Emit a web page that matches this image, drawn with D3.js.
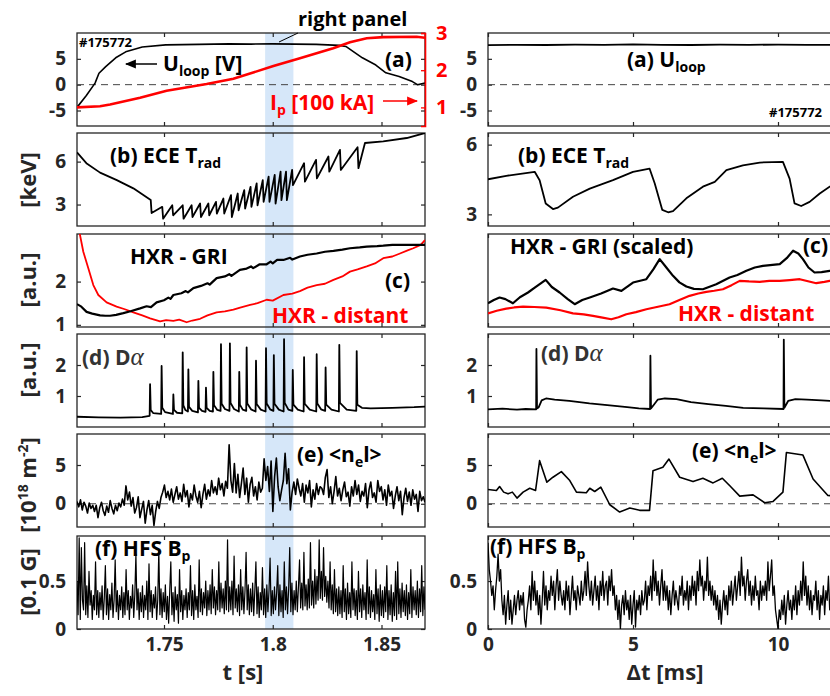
<!DOCTYPE html>
<html><head><meta charset="utf-8">
<script src="https://cdn.jsdelivr.net/npm/d3@7"></script>
<style>
body{margin:0;background:#fff;}
svg text{font-family:"Open Sans",Lato,sans-serif;font-weight:700;}
</style></head><body>
<svg id="chart" width="830" height="696"></svg>
<script>
// ---------------- DATA ----------------
const tLim = [1.71, 1.87];          // left time axis [s]
const dtLim = [0, 13];              // right time axis [ms]
const bandT = [1.7965, 1.8095];     // shaded "right panel" window
const tTicks = [1.75, 1.8, 1.85];
const dtTicks = [0, 5, 10];

// (a) loop voltage and plasma current, left
const uLoopT = [1.7100,1.7143,1.7183,1.7201,1.7232,1.7278,1.7324,1.7400,1.7508,1.7661,1.7800,1.7900,1.8000,1.8100,1.8200,1.8305,1.8336,1.8412,1.8474,1.8520,1.8581,1.8642,1.8665,1.8700];
const uLoopV = [-4.4,-2.1,0.3,2.2,3.5,5.2,6.35,7.3,7.7,7.8,7.9,7.85,7.9,7.85,7.8,7.6,7.4,5.2,3.8,2.3,1.6,0.6,0.0,0.3];
const ipT = [1.7100,1.7206,1.7252,1.7390,1.7512,1.7635,1.7696,1.7819,1.8003,1.8125,1.8278,1.8355,1.8432,1.8508,1.8662,1.8700];
const ipV = [1.00,1.03,1.08,1.26,1.45,1.57,1.63,1.77,2.11,2.32,2.59,2.75,2.86,2.89,2.90,2.87];
// (a) right
const uLoopRT = [0,1,2,3,4,5,6,7,8,9,10,11,12,13];
const uLoopRV = [7.65,7.72,7.68,7.75,7.7,7.78,7.72,7.68,7.75,7.7,7.76,7.7,7.72,7.7];

// (b) ECE Trad [keV]
const eceT = [1.7100,1.7143,1.7206,1.7283,1.7359,1.7439,1.7443,1.7492,1.7496,1.7538,1.7542,1.7586,1.7590,1.7627,1.7631,1.7666,1.7670,1.7704,1.7708,1.7739,1.7743,1.7773,1.7777,1.7808,1.7812,1.7839,1.7843,1.7869,1.7873,1.7898,1.7902,1.7926,1.7930,1.7954,1.7958,1.7981,1.7985,1.8009,1.8013,1.8036,1.8040,1.8061,1.8065,1.8089,1.8093,1.8144,1.8148,1.8199,1.8203,1.8256,1.8260,1.8309,1.8313,1.8390,1.8394,1.8424,1.8508,1.8616,1.8700];
const eceV = [6.64,5.89,5.23,4.71,4.13,3.31,2.41,2.84,2.01,2.95,2.25,2.95,2.01,2.95,2.13,3.07,2.13,3.07,2.25,3.19,2.37,3.42,2.37,3.66,2.13,3.77,2.60,4.01,2.72,4.24,2.84,4.48,2.95,4.71,3.19,4.95,3.19,5.07,3.07,5.30,3.31,5.30,3.31,5.42,4.36,5.89,4.60,6.12,4.83,6.36,5.30,6.82,5.42,7.00,5.54,7.30,7.41,7.65,8.00];
const eceRT = [0,0.63,1.61,1.78,1.99,2.24,2.41,2.93,3.51,4.31,5.0,5.57,5.75,6.01,6.21,6.38,6.84,7.41,7.82,8.22,8.79,9.37,10.17,10.40,10.57,10.80,11.09,11.44,11.78,12.3,13];
const eceRV = [4.51,4.66,4.83,4.47,3.47,3.23,3.29,3.76,4.11,4.47,4.83,4.97,4.33,3.19,3.09,3.14,3.69,4.19,4.4,4.9,5.11,5.23,5.26,4.54,3.47,3.36,3.54,3.9,4.19,4.45,4.75];

// (c) HXR [a.u.]
const griT = [1.7100,1.7120,1.7144,1.7170,1.7206,1.7230,1.7252,1.7280,1.7313,1.7350,1.7390,1.7420,1.7440,1.7466,1.7500,1.7520,1.7530,1.7543,1.7580,1.7600,1.7610,1.7635,1.7670,1.7700,1.7710,1.7742,1.7780,1.7800,1.7810,1.7849,1.7880,1.7900,1.7910,1.7940,1.7972,1.7990,1.8000,1.8020,1.8049,1.8080,1.8090,1.8125,1.8160,1.8202,1.8240,1.8279,1.8320,1.8355,1.8400,1.8432,1.8480,1.8508,1.8550,1.8585,1.8640,1.8700];
const griV = [1.48,1.42,1.30,1.26,1.22,1.21,1.21,1.23,1.27,1.32,1.38,1.43,1.41,1.52,1.57,1.63,1.60,1.69,1.73,1.78,1.75,1.85,1.90,1.96,1.93,2.08,2.12,2.17,2.13,2.27,2.30,2.35,2.31,2.40,2.40,2.46,2.42,2.50,2.50,2.55,2.51,2.58,2.62,2.65,2.69,2.71,2.74,2.77,2.79,2.81,2.82,2.83,2.85,2.85,2.85,2.85];
const distT = [1.7105,1.7129,1.7152,1.7175,1.7198,1.7236,1.7282,1.7320,1.7359,1.7400,1.7436,1.7482,1.7510,1.7543,1.7570,1.7604,1.7630,1.7666,1.7700,1.7742,1.7780,1.7819,1.7850,1.7896,1.7930,1.7972,1.8000,1.8049,1.8090,1.8125,1.8160,1.8202,1.8240,1.8279,1.8320,1.8355,1.8390,1.8432,1.8470,1.8508,1.8550,1.8585,1.8620,1.8646,1.8680,1.8700];
const distV = [3.30,2.69,2.31,1.92,1.69,1.52,1.42,1.36,1.29,1.22,1.15,1.08,1.11,1.09,1.12,1.06,1.10,1.14,1.22,1.29,1.31,1.35,1.40,1.46,1.50,1.58,1.56,1.69,1.72,1.78,1.86,1.92,1.95,2.04,2.12,2.23,2.28,2.35,2.42,2.54,2.58,2.65,2.72,2.77,2.85,2.96];
const griRT = [0,0.2,0.40,0.6,0.86,1.1,1.38,1.6,1.99,2.2,2.47,2.75,2.99,3.25,3.51,3.9,4.31,4.6,5.0,5.46,5.7,5.92,6.15,6.38,6.6,6.84,7.1,7.41,7.87,8.33,8.6,8.91,9.2,9.48,10.06,10.3,10.52,10.7,10.86,11.05,11.26,11.5,11.78,12.3,13];
const griRV = [2.55,2.9,3.17,3.0,2.55,3.2,3.71,4.2,5.07,4.3,3.71,3.0,2.45,2.9,3.17,3.6,4.14,3.88,4.78,5.14,6.2,7.3,6.4,5.5,4.8,4.35,4.1,4.06,4.6,5.32,5.6,6.04,6.4,6.58,6.76,7.4,8.2,7.9,7.3,6.4,5.86,5.9,6.04,5.6,6.0];
const distRT = [0,0.3,0.63,0.9,1.21,1.6,2.01,2.5,2.93,3.3,3.62,3.95,4.25,4.5,4.77,5.1,5.46,5.9,6.26,6.6,6.95,7.25,7.53,7.8,8.10,8.4,8.68,9.0,9.37,9.7,10.06,10.4,10.75,11.0,11.32,11.6,11.78,12.4,13];
const distRV = [1.47,1.75,1.98,2.1,2.19,2.15,2.09,1.8,1.47,1.35,1.19,1.0,0.83,1.05,1.37,1.6,1.91,2.2,2.45,2.9,3.35,3.6,3.78,3.9,4.06,4.5,4.96,4.9,4.86,4.95,4.96,5.05,5.14,4.95,4.71,4.85,4.96,5.0,5.0];

// (d) D-alpha [a.u.]
const daT = [1.7100,1.7200,1.7300,1.7400,1.7434,1.7436,1.7439,1.7450,1.7487,1.7489,1.7492,1.7505,1.7541,1.7543,1.7546,1.7560,1.7584,1.7586,1.7589,1.7598,1.7610,1.7612,1.7615,1.7630,1.7656,1.7658,1.7661,1.7675,1.7691,1.7693,1.7696,1.7710,1.7725,1.7727,1.7730,1.7745,1.7760,1.7762,1.7765,1.7780,1.7801,1.7803,1.7806,1.7822,1.7844,1.7846,1.7849,1.7862,1.7878,1.7880,1.7883,1.7900,1.7921,1.7923,1.7926,1.7945,1.7967,1.7969,1.7972,1.7988,1.8003,1.8005,1.8008,1.8028,1.8050,1.8052,1.8055,1.8072,1.8090,1.8092,1.8095,1.8115,1.8142,1.8144,1.8147,1.8170,1.8200,1.8202,1.8205,1.8222,1.8241,1.8243,1.8246,1.8270,1.8304,1.8306,1.8309,1.8340,1.8384,1.8386,1.8389,1.8410,1.8450,1.8550,1.8650,1.8700];
const daV = [0.33,0.31,0.30,0.32,0.36,1.38,0.55,0.45,0.42,1.97,0.62,0.48,0.42,1.05,0.55,0.46,0.44,2.41,0.70,0.55,0.50,1.86,0.65,0.52,0.47,1.49,0.62,0.52,0.49,1.27,0.62,0.52,0.50,1.78,0.70,0.55,0.52,2.67,0.75,0.58,0.52,2.70,0.78,0.58,0.50,1.78,0.72,0.56,0.52,2.57,0.76,0.57,0.50,2.14,0.74,0.56,0.50,2.54,0.76,0.57,0.52,2.32,0.75,0.56,0.50,2.83,0.78,0.56,0.52,1.84,0.72,0.56,0.50,2.25,0.75,0.56,0.50,2.35,0.76,0.57,0.52,1.92,0.72,0.56,0.50,2.65,0.78,0.56,0.52,2.45,0.72,0.62,0.60,0.62,0.64,0.66];
const daRT = [0,0.5,1.0,1.3,1.66,1.67,1.69,1.75,1.85,2.0,2.3,2.8,3.5,4.2,4.8,5.2,5.59,5.60,5.62,5.72,5.85,6.1,6.5,7.0,7.6,8.2,8.8,9.5,10.19,10.20,10.22,10.35,10.6,11.0,11.5,11.8,12.4,13];
const daRV = [0.57,0.59,0.56,0.58,0.57,2.52,0.60,0.64,0.86,0.92,0.88,0.84,0.76,0.70,0.64,0.60,0.58,2.30,0.60,0.72,0.88,0.92,0.90,0.80,0.74,0.68,0.62,0.60,0.58,2.82,0.62,0.84,0.90,0.88,0.86,0.84,0.80,0.76];

// (e) line-integrated density [1e18 m^-2], left: evenly sampled over tLim
const neL = [
0.3,-0.4,0.5,-0.8,0.2,-0.3,-1.2,0.1,-0.6,-0.2,
-1.0,-0.2,-1.8,-0.5,0.2,-0.9,-1.5,-0.3,-1.1,0.4,
-0.6,-1.3,-0.2,-0.9,0.1,-0.4,0.6,-0.2,2.3,0.5,
1.5,-0.3,0.8,-1.2,-0.5,0.9,-1.8,-0.7,0.3,-2.5,
-0.8,0.4,-1.4,-0.2,-2.8,-1.0,0.3,-0.6,0.8,1.5,
2.4,0.8,1.6,0.5,1.9,0.2,1.2,2.2,0.6,1.4,
0.3,2.5,0.9,1.7,-0.4,1.3,0.5,2.4,1.0,0.2,
1.6,-0.5,1.2,2.5,0.6,1.8,1.0,3.0,1.4,2.2,
1.2,3.3,1.8,2.6,1.0,2.9,2.0,7.6,3.0,1.5,
5.2,1.4,3.8,0.8,2.6,4.6,1.2,3.3,0.2,2.5,
3.4,1.0,2.2,0.5,2.8,1.5,2.0,5.8,3.0,4.8,
1.6,5.5,-1.0,3.5,5.9,2.2,0.4,1.8,3.0,6.5,
2.6,4.5,-0.8,1.5,2.8,1.2,3.2,2.0,1.0,2.6,
0.2,2.4,1.4,3.0,-0.4,1.8,0.6,2.6,1.2,2.2,
2.0,1.2,3.4,4.4,0.8,2.2,0.0,1.6,3.5,1.0,
2.0,0.4,1.8,2.8,0.9,1.5,-0.3,2.2,1.0,3.0,
1.2,2.4,0.3,1.6,1.0,2.6,-0.5,1.8,2.8,0.8,
1.4,0.2,3.0,1.6,2.2,0.5,1.8,-0.2,2.4,1.0,
1.6,-0.6,1.0,2.2,0.4,1.6,-1.4,0.8,2.0,0.3,
1.5,-0.2,1.8,0.6,1.2,-1.0,1.6,0.4,0.9,0.2];
const neRT = [0,0.29,0.40,0.54,0.69,0.84,1.0,1.21,1.44,1.64,1.78,2.03,2.24,2.53,2.82,3.05,3.39,3.51,3.68,3.89,4.20,4.54,4.89,5.23,5.57,5.69,6.03,6.24,6.61,7.07,7.41,7.76,8.08,8.33,8.68,9.14,9.54,9.83,10.17,10.29,10.86,11.21,11.72,12.3,13];
const neRV = [1.84,1.71,2.22,1.5,1.28,1.5,0.73,1.5,2.0,1.71,5.56,2.78,3.42,4.15,2.99,1.5,1.41,2.0,1.58,2.14,-0.13,-1.07,-0.56,-0.85,-0.85,4.27,4.7,5.77,3.42,2.86,3.29,2.69,3.29,2.35,0.98,1.15,0.13,0.3,1.5,6.62,6.28,3.2,1.07,0.9,1.0];

// (f) HFS Bp [0.1 G], evenly sampled
const bpL = [
0.5,0.15,0.95,0.1,0.85,0.3,0.2,0.9,0.15,0.45,0.12,0.6,0.25,0.4,0.1,0.35,0.2,0.7,0.15,0.4,
0.12,0.38,0.2,0.45,0.1,0.32,0.66,0.15,0.42,0.1,0.36,0.2,0.48,0.12,0.3,0.72,0.18,0.4,0.1,0.35,
0.2,0.44,0.12,0.38,0.15,0.62,0.2,0.4,0.1,0.34,0.22,0.46,0.12,0.36,0.78,0.2,0.42,0.1,0.38,0.18,
0.45,0.12,0.35,0.2,0.5,0.1,0.68,0.18,0.4,0.12,0.36,0.22,0.44,0.1,0.3,0.82,0.15,0.42,0.12,0.38,
0.18,0.46,0.1,0.34,0.06,0.4,0.7,0.15,0.38,0.08,0.44,0.2,0.36,0.06,0.62,0.18,0.4,0.1,0.35,0.2,
0.42,0.12,0.38,0.2,0.66,0.14,0.4,0.1,0.46,0.2,0.34,0.12,0.72,0.18,0.42,0.15,0.38,0.22,0.5,0.14,
0.4,0.2,0.46,0.16,0.62,0.22,0.44,0.15,0.4,0.2,0.7,0.18,0.48,0.22,0.42,0.16,0.5,0.2,0.93,0.18,
0.44,0.2,0.5,0.15,0.76,0.22,0.42,0.18,0.46,0.14,0.62,0.2,0.44,0.16,0.4,0.8,0.2,0.46,0.15,0.42,
0.18,0.48,0.14,0.4,0.7,0.16,0.44,0.12,0.38,0.2,0.64,0.15,0.42,0.12,0.46,0.18,0.4,0.74,0.14,0.4,
0.16,0.44,0.2,0.38,0.66,0.14,0.46,0.18,0.4,0.12,0.7,0.2,0.44,0.16,0.42,0.85,0.18,0.48,0.15,0.4,
0.2,0.5,0.18,0.44,0.72,0.22,0.48,0.2,0.8,0.24,0.46,0.2,0.52,0.22,0.9,0.25,0.5,0.22,0.62,0.26,
0.55,0.3,0.93,0.32,0.6,0.3,0.85,0.34,0.55,0.28,0.5,0.22,0.7,0.2,0.46,0.16,0.62,0.18,0.42,0.14,
0.44,0.16,0.4,0.12,0.66,0.18,0.42,0.1,0.48,0.16,0.38,0.12,0.7,0.2,0.42,0.14,0.4,0.1,0.6,0.18,
0.42,0.12,0.46,0.2,0.38,0.1,0.72,0.16,0.44,0.12,0.4,0.18,0.36,0.1,0.62,0.16,0.42,0.08,0.46,0.14,
0.4,0.12,0.44,0.18,0.66,0.1,0.4,0.15,0.46,0.08,0.38,0.14,0.6,0.1,0.7,0.16,0.42,0.12,0.48,0.18,
0.4,0.14,0.46,0.1,0.38,0.16,0.62,0.12,0.44,0.2,0.4,0.15,0.5,0.12,0.42,0.18,0.66,0.14,0.44,0.2];
const bpR = [
0.9,0.62,0.5,0.35,0.45,0.2,0.4,0.55,0.78,0.5,0.62,0.3,0.15,0.35,0.05,0.25,0.4,0.1,0.3,0.05,
0.2,0.35,0.15,0.3,0.4,0.2,0.35,0.25,0.38,0.1,0.02,0.2,0.3,0.45,0.2,0.6,0.3,0.5,0.25,0.4,
0.15,0.35,0.05,0.3,0.6,0.25,0.45,0.2,0.4,0.3,0.55,0.35,0.5,0.2,0.45,0.62,0.3,0.5,0.35,0.25,
0.4,0.2,0.5,0.3,0.45,0.15,0.35,0.55,0.3,0.4,0.2,0.45,0.35,0.25,0.5,0.3,0.4,0.6,0.35,0.7,
0.45,0.3,0.5,0.25,0.4,0.55,0.3,0.45,0.2,0.5,0.35,0.6,0.3,0.45,0.5,0.25,0.55,0.4,0.62,0.35,
0.45,0.2,0.35,0.1,0.3,0.0,0.25,0.35,0.15,0.4,0.2,0.3,0.1,0.35,0.05,0.25,0.4,0.02,0.3,0.2,
0.35,0.15,0.4,0.25,0.3,0.5,0.2,0.45,0.35,0.55,0.3,0.72,0.4,0.6,0.35,0.5,0.25,0.45,0.62,0.3,
0.5,0.3,0.45,0.2,0.4,0.15,0.35,0.5,0.25,0.4,0.3,0.2,0.45,0.35,0.55,0.25,0.4,0.3,0.5,0.2,
0.45,0.3,0.55,0.35,0.5,0.25,0.6,0.4,0.72,0.45,0.55,0.3,0.5,0.4,0.75,0.35,0.5,0.3,0.45,0.25,
0.4,0.2,0.35,0.1,0.3,0.05,0.25,0.4,0.2,0.35,0.15,0.45,0.3,0.5,0.25,0.4,0.55,0.3,0.45,0.6,
0.35,0.75,0.45,0.55,0.3,0.5,0.62,0.35,0.5,0.25,0.45,0.3,0.55,0.35,0.4,0.2,0.5,0.3,0.45,0.35,
0.5,0.3,0.7,0.4,0.55,0.72,0.35,0.45,0.2,0.1,0.0,0.2,0.1,0.3,0.15,0.35,0.05,0.25,0.4,0.2,
0.3,0.1,0.35,0.2,0.45,0.15,0.4,0.25,0.5,0.3,0.7,0.35,0.55,0.25,0.45,0.2,0.4,0.15,0.35,0.3,
0.5,0.2,0.4,0.1,0.35,0.25,0.45,0.15,0.4,0.3,0.55,0.2,0.35,0.45,0.25,0.4,0.2,0.5,0.3,0.4,
0.25,0.45,0.3,0.5,0.2,0.4,0.35,0.55,0.25,0.4,0.3,0.45,0.2,0.35,0.4,0.3,0.5,0.25,0.4,0.3];

// ---------------- LAYOUT ----------------
const svg = d3.select("#chart");
const LX = [77, 425], RX = [488, 865];
const tops = [33, 133, 234, 334, 434, 536], PH = 93;
const TL = 4;
const AX = "#262626", RED = "#ff0000";
const xL = d3.scaleLinear().domain(tLim).range(LX);
const xR = d3.scaleLinear().domain(dtLim).range(RX);
const zip = (a, b) => a.map((v, i) => [v, b[i]]);
const even = (vals, lim) => { const s = d3.scaleLinear().domain([0, vals.length - 1]).range(lim); return vals.map((v, i) => [s(i), v]); };

const defs = svg.append("defs");
function marker(id, col) {
  defs.append("marker").attr("id", id).attr("viewBox", "0 0 10 10").attr("refX", 9).attr("refY", 5)
    .attr("markerWidth", 11).attr("markerHeight", 11).attr("markerUnits", "userSpaceOnUse").attr("orient", "auto")
    .append("path").attr("d", "M0,1L10,5L0,9Z").attr("fill", col);
}
marker("arrK", "#000"); marker("arrR", RED);

// shaded band
svg.append("rect").attr("x", xL(bandT[0])).attr("width", xL(bandT[1]) - xL(bandT[0]))
  .attr("y", tops[0]).attr("height", tops[5] + PH - tops[0]).attr("fill", "#d6e7f9");

function rich(x, y, parts, o = {}) {
  const t = svg.append("text").attr("x", x).attr("y", y).attr("fill", o.fill || "#000")
    .style("font-size", (o.size || 21) + "px");
  if (o.anchor) t.attr("text-anchor", o.anchor);
  if (o.rotate) t.attr("transform", `rotate(-90,${x},${y})`);
  let shift = 0;
  parts.forEach(p => {
    const [s, k] = typeof p === "string" ? [p, "n"] : p;
    const target = k === "sub" ? 5 : k === "sup" ? -8 : 0;
    const ts = t.append("tspan").text(s).attr("dy", target - shift);
    shift = target;
    if (k === "sub" || k === "sup") ts.style("font-size", (o.small || 14) + "px");
    if (k === "greek") ts.style("font-family", "'Liberation Serif',serif").style("font-style", "italic")
      .style("font-weight", "normal").style("font-size", ((o.size || 21) * 1.2) + "px");
  });
  return t;
}

function panel(i, side, yDom, yTicks) {
  const x = side === "L" ? xL : xR;
  const top = tops[i], bot = top + PH;
  const y = d3.scaleLinear().domain(yDom).range([bot, top]);
  const g = svg.append("g");
  const xt = side === "L" ? tTicks : dtTicks;
  const fmt = d => String(d);
  const styleAx = sel => { sel.select(".domain").remove(); sel.selectAll("line").attr("stroke", AX).attr("stroke-width", 1.2);
    sel.selectAll("text").attr("fill", AX).style("font-size", "19px").style("font-family", "'Open Sans',sans-serif").style("font-weight", 700); };
  g.append("g").attr("transform", `translate(0,${bot})`)
    .call(d3.axisBottom(x).tickValues(xt).tickSize(-TL).tickPadding(9).tickFormat(i === 5 ? fmt : () => "")).call(styleAx);
  g.append("g").attr("transform", `translate(0,${top})`)
    .call(d3.axisTop(x).tickValues(xt).tickSize(-TL).tickFormat(() => "")).call(styleAx);
  if (yTicks) {
    g.append("g").attr("transform", `translate(${x.range()[0]},0)`)
      .call(d3.axisLeft(y).tickValues(yTicks).tickSize(-TL).tickPadding(11).tickFormat(fmt)).call(styleAx);
    g.append("g").attr("transform", `translate(${x.range()[1]},0)`)
      .call(d3.axisRight(y).tickValues(yTicks).tickSize(-TL).tickFormat(() => "")).call(styleAx);
  }
  g.append("rect").attr("x", x.range()[0]).attr("y", top).attr("width", x.range()[1] - x.range()[0]).attr("height", PH)
    .attr("fill", "none").attr("stroke", AX).attr("stroke-width", 1.3);
  const cid = "clip" + side + i;
  defs.append("clipPath").attr("id", cid).append("rect").attr("x", x.range()[0]).attr("y", top)
    .attr("width", x.range()[1] - x.range()[0]).attr("height", PH);
  const plot = svg.append("g").attr("clip-path", `url(#${cid})`);
  const line = (data, col, w) => plot.append("path").datum(data).attr("fill", "none").attr("stroke", col)
    .attr("stroke-width", w).attr("stroke-linejoin", "round")
    .attr("d", d3.line().x(d => x(d[0])).y(d => y(d[1])));
  const zero = () => plot.append("line").attr("x1", x.range()[0]).attr("x2", x.range()[1])
    .attr("y1", y(0)).attr("y2", y(0)).attr("stroke", "#444").attr("stroke-width", 1).attr("stroke-dasharray", "7,5");
  return { x, y, g, plot, line, zero, top, bot };
}

// (a) left
{
  const p = panel(0, "L", [-8, 10], [-5, 0, 5]);
  p.zero();
  const yI = d3.scaleLinear().domain([0.5, 3]).range([p.bot, p.top]);
  p.line(zip(uLoopT, uLoopV), "#000", 1.6);
  p.plot.append("path").datum(zip(ipT, ipV)).attr("fill", "none").attr("stroke", RED).attr("stroke-width", 2.6)
    .attr("d", d3.line().x(d => xL(d[0])).y(d => yI(d[1])));
  svg.append("g").attr("transform", `translate(${LX[1]},0)`)
    .call(d3.axisRight(yI).tickValues([1, 2, 3]).tickSize(-TL).tickPadding(11).tickFormat(d => String(d)))
    .call(s => { s.select(".domain").attr("stroke", RED).attr("stroke-width", 1.6); s.selectAll("line").attr("stroke", RED).attr("stroke-width", 1.3);
      s.selectAll("text").attr("fill", RED).style("font-size", "20px").style("font-weight", 700).style("font-family", "'Open Sans',sans-serif"); });
}
// (a) right
{ const p = panel(0, "R", [-8, 10], [-5, 0, 5]); p.zero(); p.line(zip(uLoopRT, uLoopRV), "#000", 1.8); }
// (b)
{ const p = panel(1, "L", [1.5, 8], [3, 6]); p.line(zip(eceT, eceV), "#000", 1.8); }
{ const p = panel(1, "R", [2.5, 6.5], [3, 6]); p.line(zip(eceRT, eceRV), "#000", 1.8); }
// (c)
{ const p = panel(2, "L", [0.95, 3.1], [1, 2]); p.line(zip(distT, distV), RED, 1.8); p.line(zip(griT, griV), "#000", 2.2); }
{ const p = panel(2, "R", [0, 10], null); p.line(zip(distRT, distRV), RED, 2.2); p.line(zip(griRT, griRV), "#000", 2.2); }
// (d)
{ const p = panel(3, "L", [0, 3], [1, 2]); p.line(zip(daT, daV), "#000", 1.8); }
{ const p = panel(3, "R", [0, 3], [1, 2]); p.line(zip(daRT, daRV), "#000", 1.8); }
// (e)
{ const p = panel(4, "L", [-3, 9], [0, 5]); p.zero(); p.line(even(neL, tLim), "#000", 1.6); }
{ const p = panel(4, "R", [-3, 9], [0, 5]); p.zero(); p.line(zip(neRT, neRV), "#000", 1.6); }
// (f)
{ const p = panel(5, "L", [0, 0.97], [0, 0.5]); p.line(even(bpL, tLim), "#000", 1.2); }
{ const p = panel(5, "R", [0, 0.97], [0, 0.5]); p.line(even(bpR, dtLim), "#000", 1.3); }

// ---------------- TEXT ----------------
rich(298, 26, ["right panel"], { size: 20 });
svg.append("line").attr("x1", 279).attr("y1", 42).attr("x2", 298).attr("y2", 33).attr("stroke", "#000").attr("stroke-width", 1);
rich(79, 47, ["#175772"], { size: 13 });
rich(385, 67, ["(a)"], { size: 21 });
svg.append("line").attr("x1", 157).attr("y1", 64).attr("x2", 126).attr("y2", 64).attr("stroke", "#000").attr("stroke-width", 1.5).attr("marker-end", "url(#arrK)");
rich(163, 71, ["U", ["loop", "sub"], " [V]"], { size: 21, small: 14 });
rich(270, 110, ["I", ["p", "sub"], " [100 kA]"], { size: 21, small: 14, fill: RED });
svg.append("line").attr("x1", 383).attr("y1", 101).attr("x2", 417).attr("y2", 101).attr("stroke", RED).attr("stroke-width", 1.5).attr("marker-end", "url(#arrR)");

rich(627, 67, ["(a) U", ["loop", "sub"]], { size: 21, small: 14 });
rich(769, 117, ["#175772"], { size: 13 });

rich(110, 163, ["(b) ECE T", ["rad", "sub"]], { size: 21, small: 14 });
rich(518, 163, ["(b) ECE T", ["rad", "sub"]], { size: 21, small: 14 });

rich(130, 264, ["HXR - GRI"], { size: 21 });
rich(385, 288, ["(c)"], { size: 21 });
rich(272, 323, ["HXR - distant"], { size: 21, fill: RED });
rich(510, 254, ["HXR - GRI (scaled)"], { size: 21 });
rich(803, 253, ["(c)"], { size: 21 });
rich(678, 321, ["HXR - distant"], { size: 21, fill: RED });

rich(82, 365, ["(d) D", ["α", "greek"]], { size: 21, fill: "#333" });
rich(541, 361, ["(d) D", ["α", "greek"]], { size: 21, fill: "#333" });

rich(297, 462, ["(e) <n", ["e", "sub"], "l>"], { size: 21, small: 14 });
rich(692, 458, ["(e) <n", ["e", "sub"], "l>"], { size: 21, small: 14 });

rich(95, 556, ["(f) HFS B", ["p", "sub"]], { size: 21, small: 14 });
rich(490, 554, ["(f) HFS B", ["p", "sub"]], { size: 21, small: 14 });

// y-axis titles
rich(36, 180, ["[keV]"], { size: 22, anchor: "middle", rotate: true, fill: AX });
rich(36, 280, ["[a.u.]"], { size: 22, anchor: "middle", rotate: true, fill: AX });
rich(36, 370, ["[a.u.]"], { size: 22, anchor: "middle", rotate: true, fill: AX });
rich(36, 485, ["[10", ["18", "sup"], " m", ["-2", "sup"], "]"], { size: 22, small: 14, anchor: "middle", rotate: true, fill: AX });
rich(36, 582, ["[0.1 G]"], { size: 22, anchor: "middle", rotate: true, fill: AX });

// x-axis titles
rich(243, 680, ["t [s]"], { size: 22, anchor: "middle", fill: AX });
rich(665, 680, ["Δt [ms]"], { size: 22, anchor: "middle", fill: AX });
</script>
</body></html>
